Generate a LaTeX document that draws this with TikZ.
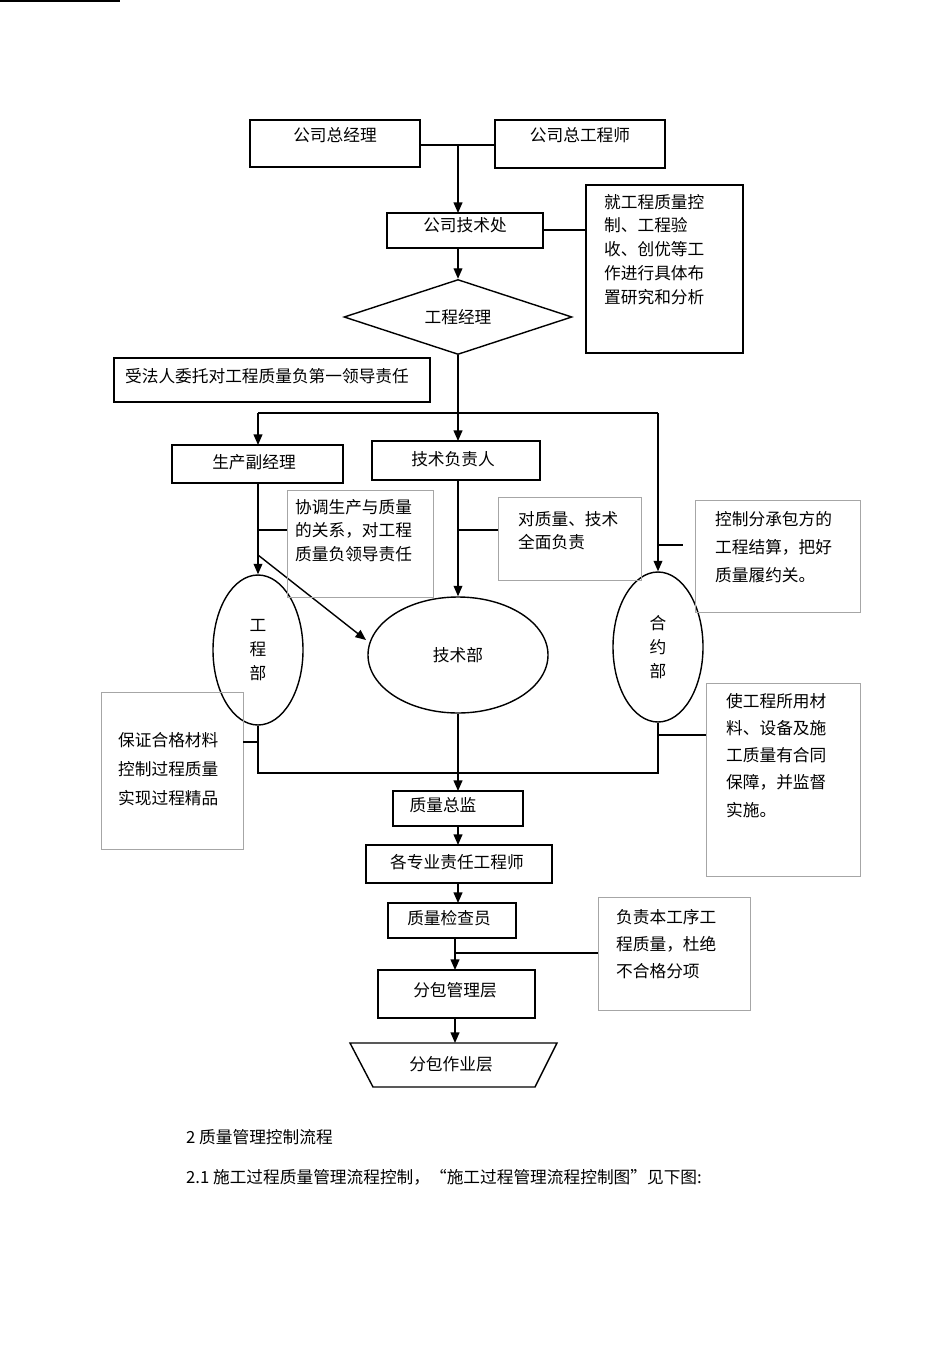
\documentclass[tikz,border=0pt]{standalone}
\usepackage{fontspec}
\setmainfont{Noto Sans CJK SC}
\usetikzlibrary{shapes.geometric,arrows.meta}
\begin{document}
\begin{tikzpicture}[x=0.02cm,y=-0.02cm,font=\fontsize{9.5}{13.5}\selectfont,
 bx/.style={draw,thick,inner sep=0},
 nt/.style={draw=black!35,inner sep=0},
 ln/.style={thick},
 ar/.style={thick,-{Triangle[length=6pt,width=5pt]}}]
\useasboundingbox (0,0) rectangle (950,1345);
\node[bx,minimum width=170\pgflinewidth] at (0,0) {};
\draw[thick] (250,120) rectangle (420,167); \node (gm) at (335,135) {公司总经理};
\draw[thick] (495,120) rectangle (665,168); \node (ce) at (580,135) {公司总工程师};
\draw[ln] (420,145) -- (495,145);
\coordinate (j1) at (458,145);
\draw[thick] (387,213) rectangle (543,248); \node (td) at (465,225) {公司技术处};
\coordinate (tdt) at (458,213); \coordinate (tdb) at (458,248);
\draw[ar] (j1) -- (tdt);
\draw[thick] (586,185) rectangle (743,353);
\node[align=left,anchor=north west] (n1) at (598,188) {就工程质量控\\制、工程验\\收、创优等工\\作进行具体布\\置研究和分析};
\draw[ln] (543,230) -- (586,230);
\node[draw,thick,diamond,aspect=3.05,minimum width=228\pgflinewidth,inner sep=0,minimum height=75*0.02cm,minimum width=228*0.02cm] (pm) at (458,317) {工程经理};
\draw[ar] (tdb) -- (pm.north);
\draw[thick] (114,358) rectangle (430,402); \node at (267,376) {受法人委托对工程质量负第一领导责任};
\coordinate (j2) at (458,413); \coordinate (jl) at (258,413); \coordinate (jr) at (658,413);
\draw[ln] (pm.south) -- (j2); \draw[ln] (jl) -- (jr);
\draw[thick] (172,445) rectangle (343,483); \node (sp) at (254,462) {生产副经理};
\draw[thick] (372,441) rectangle (540,480); \node (tr) at (453,459) {技术负责人};
\draw[ar] (jl) -- (258,445); \draw[ar] (j2) -- (458,441);
\node[draw,thick,ellipse,minimum width=90*0.02cm,minimum height=150*0.02cm,inner sep=0,align=center] (gcb) at (258,650) {工\\程\\部};
\node[draw,thick,ellipse,minimum width=180*0.02cm,minimum height=116*0.02cm,inner sep=0] (jsb) at (458,655) {技术部};
\node[draw,thick,ellipse,minimum width=90*0.02cm,minimum height=150*0.02cm,inner sep=0,align=center] (hyb) at (658,647) {合\\约\\部};
\draw[ar] (jr) -- (hyb.north);
\draw[ar] (258,483) -- (gcb.north);
\draw[ar] (458,480) -- (jsb.north);
\draw[ar] (258,555) -- (366,640);
\draw[nt] (287,490) rectangle (433,597);
\node[align=left,anchor=north west] at (289,493) {协调生产与质量\\的关系，对工程\\质量负领导责任};
\draw[ln] (258,530) -- (287,530);
\draw[nt] (498,497) rectangle (641,580);
\node[align=left,anchor=north west] at (512,505) {对质量、技术\\全面负责};
\draw[ln] (458,530) -- (498,530);
\draw[nt] (695,500) rectangle (860,612);
\node[align=left,anchor=north west,font=\fontsize{9.5}{16}\selectfont] at (709,505) {控制分承包方的\\工程结算，把好\\质量履约关。};
\draw[ln] (658,545) -- (683,545);
\draw[nt] (706,683) rectangle (860,876);
\node[align=left,anchor=north west,font=\fontsize{9.5}{15.5}\selectfont] at (720,687) {使工程所用材\\料、设备及施\\工质量有合同\\保障，并监督\\实施。};
\draw[ln] (658,735) -- (706,735);
\draw[nt] (101,692) rectangle (243,849);
\node[align=left,anchor=north west,font=\fontsize{9.5}{16.5}\selectfont] at (112,726) {保证合格材料\\控制过程质量\\实现过程精品};
\draw[ln] (243,742) -- (258,742);
\draw[ln] (gcb.south) -- (258,773) -- (658,773) -- (hyb.south);
\draw[thick] (393,791) rectangle (523,826); \node (zj) at (443,805) {质量总监};
\draw[ar] (jsb.south) -- (458,791);
\draw[thick] (366,845) rectangle (552,883); \node at (457,862) {各专业责任工程师};
\draw[ar] (458,826) -- (458,845);
\draw[thick] (388,903) rectangle (516,938); \node at (449,918) {质量检查员};
\draw[ar] (458,883) -- (458,903);
\draw[nt] (598,897) rectangle (750,1010);
\node[align=left,anchor=north west,font=\fontsize{9.5}{15.5}\selectfont] at (610,903) {负责本工序工\\程质量，杜绝\\不合格分项};
\draw[ln] (455,953) -- (598,953);
\draw[thick] (378,970) rectangle (535,1018); \node at (455,990) {分包管理层};
\draw[ar] (455,938) -- (455,970);
\draw[thick] (350,1043) -- (557,1043) -- (535,1087) -- (373,1087) -- cycle;
\node at (451,1064) {分包作业层};
\draw[ar] (455,1018) -- (455,1043);
\node[anchor=west] at (180,1137) {2 质量管理控制流程};
\node[anchor=west] at (180,1177) {2.1 施工过程质量管理流程控制，“施工过程管理流程控制图”见下图:};
\end{tikzpicture}
\end{document}
